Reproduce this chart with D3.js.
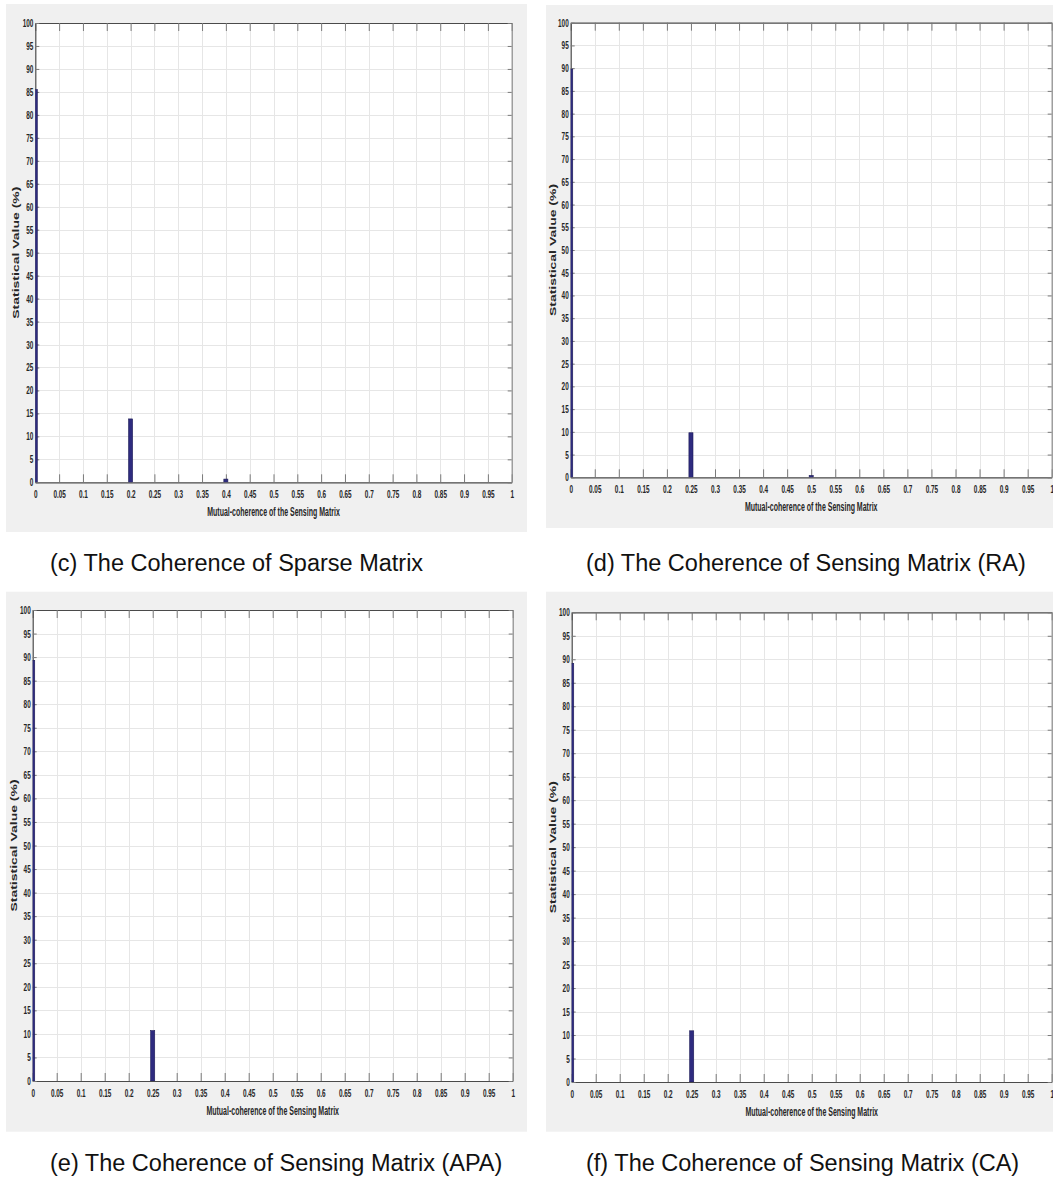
<!DOCTYPE html>
<html>
<head>
<meta charset="utf-8">
<script src="https://cdn.jsdelivr.net/npm/d3@7"></script>
<style>
  html, body { margin: 0; padding: 0; background: #ffffff; }
  svg { display: block; }
  text { font-family: "Liberation Sans", Arial, sans-serif; }
</style>
</head>
<body>
<svg id="fig" width="1053" height="1180"></svg>
<script>
// Histogram of mutual coherence, share of trials (%) per coherence bin.
const xTickValues = [0, 0.05, 0.1, 0.15, 0.2, 0.25, 0.3, 0.35, 0.4, 0.45, 0.5,
                     0.55, 0.6, 0.65, 0.7, 0.75, 0.8, 0.85, 0.9, 0.95, 1];
const xTickLabels = ["0", "0.05", "0.1", "0.15", "0.2", "0.25", "0.3", "0.35", "0.4", "0.45", "0.5",
                     "0.55", "0.6", "0.65", "0.7", "0.75", "0.8", "0.85", "0.9", "0.95", "1"];
const yTickValues = [0, 5, 10, 15, 20, 25, 30, 35, 40, 45, 50,
                     55, 60, 65, 70, 75, 80, 85, 90, 95, 100];

// (c) sparse matrix
const sparseCoherence = [0, 0.2, 0.4];
const sparseShare     = [85.5, 13.8, 0.7];
// (d) sensing matrix, RA
const raCoherence = [0, 0.25, 0.5];
const raShare     = [89.8, 9.8, 0.4];
// (e) sensing matrix, APA
const apaCoherence = [0, 0.25];
const apaShare     = [89.3, 10.7];
// (f) sensing matrix, CA
const caCoherence = [0, 0.25];
const caShare     = [89.1, 10.9];

const captions = [
  "(c) The Coherence of Sparse Matrix",
  "(d) The Coherence of Sensing Matrix (RA)",
  "(e) The Coherence of Sensing Matrix (APA)",
  "(f) The Coherence of Sensing Matrix (CA)"
];
const xAxisTitle = "Mutual-coherence of the Sensing Matrix";
const yAxisTitle = "Statistical Value (%)";
const binWidth = 0.0085;

const series = [
  { x: sparseCoherence, y: sparseShare },
  { x: raCoherence, y: raShare },
  { x: apaCoherence, y: apaShare },
  { x: caCoherence, y: caShare }
];

// Panel frames: grey figure area, inner axes box, y-title position, caption anchor (left-aligned).
const layout = [
  { bg: [6, 4, 521, 528],       box: [35.3, 23, 511.7, 482.3],     yTitleX: 16,  cap: [50, 571] },
  { bg: [546, 5, 510, 523],     box: [570.7, 22.7, 1051.7, 477.3], yTitleX: 553, cap: [586, 571] },
  { bg: [6, 591.7, 521, 540],   box: [32.7, 610, 512.7, 1081],     yTitleX: 14,  cap: [50, 1171] },
  { bg: [546, 591.7, 510, 540], box: [571.7, 612.3, 1051.7, 1082], yTitleX: 553, cap: [586, 1171] }
];

const svg = d3.select("#fig");
const squeeze = 0.64;   // narrow glyphs used by the axis text

layout.forEach((L, i) => {
  const [l, t, r, b] = L.box;
  const g = svg.append("g");

  g.append("rect")
    .attr("x", L.bg[0]).attr("y", L.bg[1])
    .attr("width", L.bg[2]).attr("height", L.bg[3])
    .attr("fill", "#f0f0f0");

  const x = d3.scaleLinear().domain([0, 1]).range([l, r]);
  const y = d3.scaleLinear().domain([0, 100]).range([b, t]);

  g.append("rect")
    .attr("x", l).attr("y", t).attr("width", r - l).attr("height", b - t)
    .attr("fill", "#ffffff");

  // grid
  const grid = g.append("g").attr("stroke", "#e6e6e6").attr("stroke-width", 1);
  grid.selectAll("line.gx").data(xTickValues.slice(1, -1)).join("line")
    .attr("x1", d => Math.round(x(d)) + 0.5).attr("x2", d => Math.round(x(d)) + 0.5)
    .attr("y1", t).attr("y2", b);
  grid.selectAll("line.gy").data(yTickValues.slice(1, -1)).join("line")
    .attr("y1", d => Math.round(y(d)) + 0.5).attr("y2", d => Math.round(y(d)) + 0.5)
    .attr("x1", l).attr("x2", r);

  // axes with inward ticks (bottom/top long, left/right short)
  const fmtX = d => xTickLabels[xTickValues.indexOf(d)];
  const bottom = g.append("g").attr("transform", `translate(0,${b})`)
    .call(d3.axisBottom(x).tickValues(xTickValues).tickFormat(fmtX).tickSizeInner(-8).tickSizeOuter(0).tickPadding(0));
  const top = g.append("g").attr("transform", `translate(0,${t})`)
    .call(d3.axisTop(x).tickValues(xTickValues).tickFormat("").tickSizeInner(-8).tickSizeOuter(0));
  const left = g.append("g").attr("transform", `translate(${l},0)`)
    .call(d3.axisLeft(y).tickValues(yTickValues).tickSizeInner(-4).tickSizeOuter(0).tickPadding(0));
  const right = g.append("g").attr("transform", `translate(${r},0)`)
    .call(d3.axisRight(y).tickValues(yTickValues).tickFormat("").tickSizeInner(-4).tickSizeOuter(0));

  [bottom, top, left, right].forEach(a => {
    a.select(".domain").attr("stroke", "#4a4a4a").attr("stroke-width", 1.2);
    a.selectAll(".tick line").attr("stroke", "#7a7a7a");
  });
  right.select(".domain").attr("stroke", "#8a8a8a");

  bottom.selectAll(".tick text")
    .attr("y", null).attr("dy", null)
    .attr("fill", "#262626")
    .attr("font-size", 10).attr("font-weight", "bold")
    .attr("text-anchor", "middle")
    .attr("transform", `translate(0,16) scale(${squeeze},1)`);
  left.selectAll(".tick text")
    .attr("x", null).attr("dy", null)
    .attr("fill", "#262626")
    .attr("font-size", 10).attr("font-weight", "bold")
    .attr("text-anchor", "end")
    .attr("transform", `translate(-2,3.5) scale(${squeeze},1)`);

  // bars, clipped to the axes box, drawn over the axis line
  const clipId = "clip" + i;
  g.append("clipPath").attr("id", clipId)
    .append("rect").attr("x", l).attr("y", t).attr("width", r - l).attr("height", b - t);
  const s = series[i];
  const bw = x(binWidth) - x(0);
  g.append("g").attr("clip-path", `url(#${clipId})`)
    .selectAll("rect").data(s.x.map((v, k) => [v, s.y[k]])).join("rect")
    .attr("x", d => x(d[0]) - bw / 2)
    .attr("width", bw)
    .attr("y", d => y(d[1]))
    .attr("height", d => y(0) - y(d[1]))
    .attr("fill", "#2e2b7f")
    .attr("stroke", "#1c1a55")
    .attr("stroke-width", 0.6);

  // axis titles
  g.append("text")
    .attr("transform", `translate(${(l + r) / 2},${b + 34}) scale(0.56,1)`)
    .attr("text-anchor", "middle")
    .attr("font-size", 12.5).attr("font-weight", "bold")
    .attr("fill", "#262626")
    .text(xAxisTitle);
  g.append("text")
    .attr("transform", `translate(${L.yTitleX + 3},${(t + b) / 2}) scale(${squeeze},1) rotate(-90)`)
    .attr("text-anchor", "middle")
    .attr("font-size", 14).attr("font-weight", "bold")
    .attr("fill", "#262626")
    .text(yAxisTitle);

  // caption
  svg.append("text")
    .attr("x", L.cap[0]).attr("y", L.cap[1])
    .attr("text-anchor", "start")
    .attr("font-size", 23.5)
    .attr("fill", "#111111")
    .text(captions[i]);
});
</script>
</body>
</html>
